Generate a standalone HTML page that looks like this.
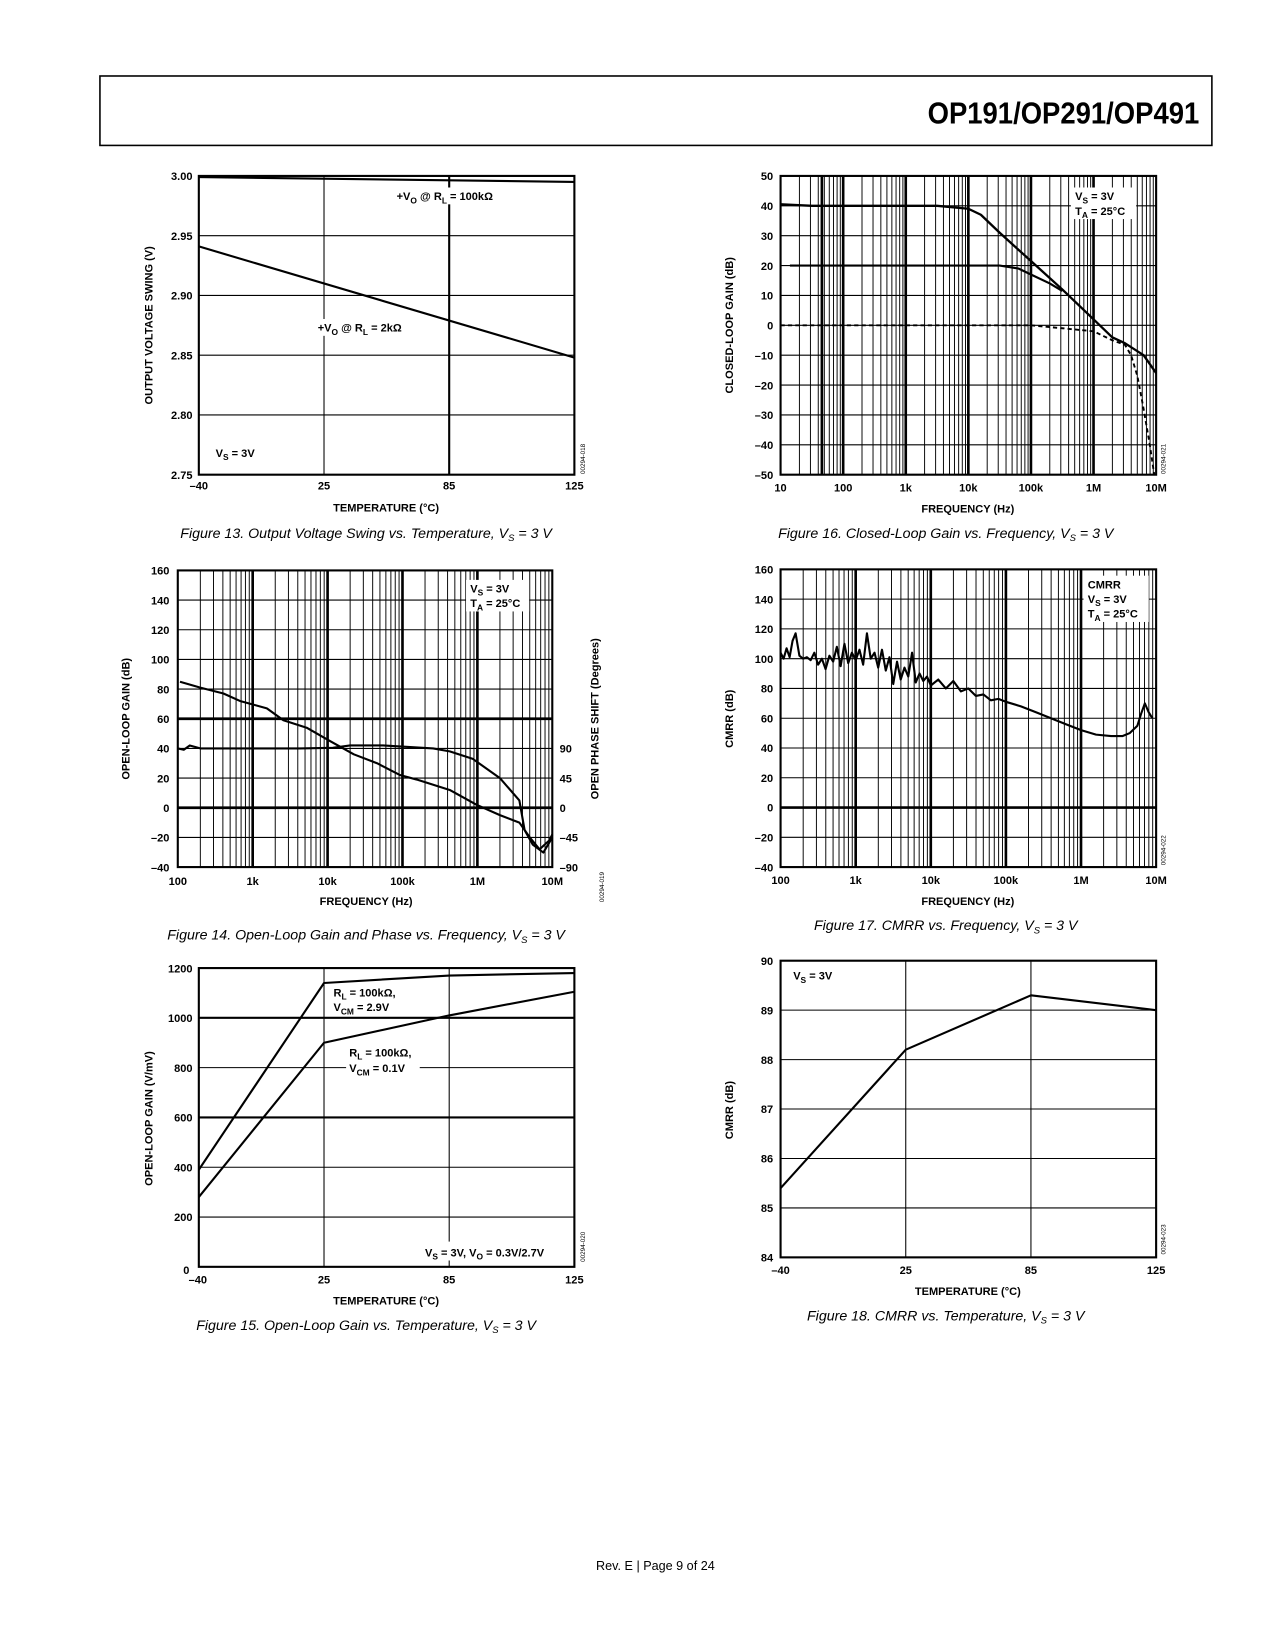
<!DOCTYPE html>
<html><head><meta charset="utf-8"><style>
html,body{margin:0;padding:0;background:#fff}
svg{display:block}
text{font-family:"Liberation Sans",Arial,sans-serif}
.t{font-size:10.5px;font-weight:bold}
.cap{font-size:13.5px;font-style:italic}
</style></head><body>
<svg id="page" width="1275" height="1650" viewBox="0 0 1212 1568" xmlns="http://www.w3.org/2000/svg">
<rect x="95" y="72" width="1057" height="66" fill="none" stroke="#000" stroke-width="1.5"/>
<text x="1140" y="117" text-anchor="end" font-size="29" font-weight="bold" transform="scale(0.9,1)" style="transform-origin:1140px 117px">OP191/OP291/OP491</text>
<text x="623" y="1492" text-anchor="middle" font-size="12">Rev. E | Page 9 of 24</text>
<g id="charts"></g>
</svg>
<script>
// Fig 13 data
const f13Temps=[-40,125];
const f13Upper=[2.999,2.995];
const f13Lower=[2.941,2.848];
const f13YTicks=[2.75,2.80,2.85,2.90,2.95,3.00];
const f13YTickLabels=["2.75","2.80","2.85","2.90","2.95","3.00"];
const tempTicks=[-40,25,85,125];
const tempTickLabels=["–40","25","85","125"];
// Fig 14 data
const f14GainLogF=[2.03,2.3,2.61,2.83,3.19,3.41,3.72,4.03,4.35,4.66,4.97,5.19,5.63,5.99,6.3,6.56,6.7,6.83,6.96,7.0];
const f14Gain=[85,81,77,72,67,59,54,45,36,30,22,19,12,2,-5,-10,-20,-28,-22,-18];
const f14PhaseLogF=[2.0,2.08,2.16,2.3,2.74,3.19,3.63,4.07,4.3,4.74,5.41,5.63,5.94,6.3,6.56,6.63,6.74,6.88,7.0];
const f14Phase=[90,88,94.5,90,90,90,90,91,94.5,94.5,90,85.5,74,45,11,-34,-56,-68,-45];
const f14YTicks=[-40,-20,0,20,40,60,80,100,120,140,160];
const f14YTickLabels=["–40","–20","0","20","40","60","80","100","120","140","160"];
const f14PhaseTicks=[-90,-45,0,45,90];
const f14PhaseTickLabels=["–90","–45","0","45","90"];
const f14XTicks=[2,3,4,5,6,7];
const f14XTickLabels=["100","1k","10k","100k","1M","10M"];
// Fig 15 data
const f15Temps=[-40,25,85,125];
const f15Upper=[390,1140,1170,1180];
const f15Lower=[280,900,1010,1105];
const f15YTicks=[0,200,400,600,800,1000,1200];
const f15YTickLabels=["0","200","400","600","800","1000","1200"];
// Fig 16 data
const f16G40LogF=[1.0,1.5,3.5,4.0,4.2,4.5,5.0,5.5,6.0,6.3,6.5,6.8,7.0];
const f16G40=[40.5,40,40,39,37,31,21.5,12,2,-4,-6,-10,-16];
const f16G20LogF=[1.15,4.5,4.8,5.0,5.3,5.5];
const f16G20=[20,20,19,17,14,11.5];
const f16G0LogF=[1.0,5.0,5.5,6.0,6.3,6.5,6.6,6.7,6.8,6.9,6.97];
const f16G0=[0,0,-1,-2,-5,-6.5,-10,-17,-28,-40,-50];
const f16YTicks=[-50,-40,-30,-20,-10,0,10,20,30,40,50];
const f16YTickLabels=["–50","–40","–30","–20","–10","0","10","20","30","40","50"];
const f16XTicks=[1,2,3,4,5,6,7];
const f16XTickLabels=["10","100","1k","10k","100k","1M","10M"];
// Fig 17 data
const f17LogF=[2.0,2.04,2.08,2.12,2.16,2.2,2.25,2.3,2.35,2.4,2.45,2.5,2.55,2.6,2.65,2.7,2.75,2.8,2.85,2.9,2.95,3.0,3.05,3.1,3.15,3.2,3.25,3.3,3.35,3.4,3.45,3.5,3.55,3.6,3.65,3.7,3.75,3.8,3.85,3.9,3.95,4.0,4.1,4.2,4.3,4.4,4.5,4.6,4.7,4.8,4.9,5.0,5.2,5.4,5.6,5.8,6.0,6.2,6.4,6.55,6.65,6.75,6.8,6.85,6.9,6.95];
const f17Cmrr=[104,100,107,101,112,117,102,100,101,99,104,96,100,93,102,98,108,95,110,97,104,99,106,96,117,100,104,94,106,92,101,83,98,86,94,88,104,84,90,85,88,82,86,80,85,78,80,75,76,72,73,71,68,64,60,56,52,49,48,48,50,55,63,70,64,60];
const f17YTicks=[-40,-20,0,20,40,60,80,100,120,140,160];
const f17YTickLabels=["–40","–20","0","20","40","60","80","100","120","140","160"];
const f17XTicks=[2,3,4,5,6,7];
const f17XTickLabels=["100","1k","10k","100k","1M","10M"];
// Fig 18 data
const f18Temps=[-40,25,85,125];
const f18Cmrr=[85.4,88.2,89.3,89.0];
const f18YTicks=[84,85,86,87,88,89,90];
const f18YTickLabels=["84","85","86","87","88","89","90"];

const NS="http://www.w3.org/2000/svg";
const root=document.getElementById('charts');
function el(tag,attrs,parent){const e=document.createElementNS(NS,tag);for(const k in attrs)e.setAttribute(k,attrs[k]);(parent||root).appendChild(e);return e;}
function lin(v,d0,d1,p0,p1){return p0+(v-d0)/(d1-d0)*(p1-p0);}
// temperature axis: ticks evenly spaced, piecewise linear between them
function tempScale(X0,X1){return v=>{const n=tempTicks.length-1;let i=0;while(i<n-1&&v>tempTicks[i+1])i++;
  return lin(v,tempTicks[i],tempTicks[i+1],X0+(X1-X0)*i/n,X0+(X1-X0)*(i+1)/n);};}
function txt(parent,x,y,s,anchor,cls,rot){const t=el('text',{x:x,y:y,'text-anchor':anchor||'middle',class:cls||'t'},parent);
  if(rot)t.setAttribute('transform','rotate(-90 '+x+' '+y+')');t.textContent=s;return t;}
function idtxt(parent,x,y,s){const t=el('text',{x:x,y:y,'text-anchor':'middle',style:'font-size:6px;font-weight:normal',transform:'rotate(-90 '+x+' '+y+')'},parent);t.textContent=s;return t;}
function cap(parent,x,y,pre,post){const t=el('text',{x:x,y:y,'text-anchor':'middle',class:'cap'},parent);
  const a=el('tspan',{},t);a.textContent=pre;const b=el('tspan',{'font-size':'9',dy:'3'},t);b.textContent='S';const c=el('tspan',{dy:'-3'},t);c.textContent=post;return t;}
function rich(parent,x,y,parts,anchor){const t=el('text',{x:x,y:y,class:'t','text-anchor':anchor||'start'},parent);
  parts.forEach(p=>{const s=el('tspan',{},t);if(p[1]){s.setAttribute('font-size','8');s.setAttribute('dy','3');}else if(p[2]){s.setAttribute('dy','-3');}s.textContent=p[0];});return t;}
function line(parent,x1,y1,x2,y2,w,dash){const l=el('line',{x1:x1,y1:y1,x2:x2,y2:y2,stroke:'#000','stroke-width':w||1},parent);if(dash)l.setAttribute('stroke-dasharray',dash);return l;}
function path(parent,xs,ys,fx,fy,w,dash){let d='';for(let i=0;i<xs.length;i++)d+=(i?'L':'M')+fx(xs[i]).toFixed(1)+','+fy(ys[i]).toFixed(1);
  const p=el('path',{d:d,fill:'none',stroke:'#000','stroke-width':w||2,'stroke-linejoin':'round'},parent);if(dash)p.setAttribute('stroke-dasharray',dash);return p;}
function logGrid(g,x0,x1,d0,d1,y0,y1){const fx=v=>lin(v,d0,d1,x0,x1);
  for(let d=d0;d<d1;d++){for(let m=2;m<=9;m++){line(g,fx(d+Math.log10(m)),y0,fx(d+Math.log10(m)),y1,0.9);} if(d>d0)line(g,fx(d),y0,fx(d),y1,2.5);}}
function box(g,x0,y0,x1,y1){el('rect',{x:x0,y:y0,width:x1-x0,height:y1-y0,fill:'none',stroke:'#000','stroke-width':2},g);}

// ---------- Figure 13 ----------
(function(){
 const g=el('g',{});
 const X0=189,X1=546,Y0=167,Y1=451;
 const fx=tempScale(X0,X1), fy=v=>lin(v,2.75,3.0,Y1,Y0);
 f13YTicks.forEach((v,i)=>{const l=line(g,X0,fy(v),X1,fy(v),1);
   txt(g,183,fy(v)+4,f13YTickLabels[i],'end');});
 line(g,fx(25),Y0,fx(25),Y1,1);line(g,fx(85),Y0,fx(85),Y1,2);
 tempTicks.forEach((v,i)=>txt(g,fx(v),465,tempTickLabels[i]));
 box(g,X0,Y0,X1,Y1);
 const a=path(g,f13Temps,f13Upper,fx,fy,2);
 const b=path(g,f13Temps,f13Lower,fx,fy,2);
 el('rect',{x:373,y:178,width:112,height:16,fill:'#fff'},g);
 rich(g,377,190,[['+V'],['O',1],[' @ R',0,1],['L',1],[' = 100kΩ',0,1]]);
 el('rect',{x:299,y:303,width:98,height:16,fill:'#fff'},g);
 rich(g,302,315,[['+V'],['O',1],[' @ R',0,1],['L',1],[' = 2kΩ',0,1]]);
 rich(g,205,434,[['V'],['S',1],[' = 3V',0,1]]);
 const yl=txt(g,145,309,'OUTPUT VOLTAGE SWING (V)','middle','t',true);
 const xl=txt(g,367,486,'TEMPERATURE (°C)');
 idtxt(g,556,436,'00294-018');
 const c=cap(g,348,511,'Figure 13. Output Voltage Swing vs. Temperature, V',' = 3 V');
})();

// ---------- Figure 14 ----------
(function(){
 const g=el('g',{});
 const X0=169,X1=525,Y0=542,Y1=824;
 const fx=v=>lin(v,2,7,X0,X1), fy=v=>lin(v,-40,160,Y1,Y0), fp=v=>lin(v,-90,90,Y1,fy(40));
 logGrid(g,X0,X1,2,7,Y0,Y1);
 f14YTicks.forEach((v,i)=>{line(g,X0,fy(v),X1,fy(v),(v===0||v===60)?2.5:1);txt(g,161,fy(v)+4,f14YTickLabels[i],'end');});
 f14PhaseTicks.forEach((v,i)=>txt(g,532,fp(v)+4,f14PhaseTickLabels[i],'start'));
 f14XTicks.forEach((v,i)=>txt(g,fx(v),841,f14XTickLabels[i]));
 box(g,X0,Y0,X1,Y1);
 el('rect',{x:443,y:551,width:60,height:30,fill:'#fff'},g);
 rich(g,447,563,[['V'],['S',1],[' = 3V',0,1]]);
 rich(g,447,577,[['T'],['A',1],[' = 25°C',0,1]]);
 const a=path(g,f14GainLogF,f14Gain,fx,fy,2);
 const b=path(g,f14PhaseLogF,f14Phase,fx,fp,2);
 txt(g,123,683,'OPEN-LOOP GAIN (dB)','middle','t',true);
 const r=el('text',{x:569,y:683,class:'t','text-anchor':'middle',transform:'rotate(-90 569 683)'},g);r.textContent='OPEN PHASE SHIFT (Degrees)';
 txt(g,348,860,'FREQUENCY (Hz)');
 idtxt(g,574,843,'00294-019');
 cap(g,348,893,'Figure 14. Open-Loop Gain and Phase vs. Frequency, V',' = 3 V');
})();

// ---------- Figure 15 ----------
(function(){
 const g=el('g',{});
 const X0=189,X1=546,Y0=920,Y1=1204;
 const fx=tempScale(X0,X1), fy=v=>lin(v,0,1200,Y1,Y0);
 f15YTicks.forEach((v,i)=>{line(g,X0,fy(v),X1,fy(v),(v===600||v===1000)?2:1);if(v>0)txt(g,183,fy(v)+4,f15YTickLabels[i],'end');});
 txt(g,180,1211,'0','end');
 line(g,fx(25),Y0,fx(25),Y1,1);line(g,fx(85),Y0,fx(85),Y1,1);
 tempTicks.forEach((v,i)=>txt(g,fx(v)+(i===0?-1:0),1220,tempTickLabels[i]));
 box(g,X0,Y0,X1,Y1);
 const a=path(g,f15Temps,f15Upper,fx,fy,2);
 const b=path(g,f15Temps,f15Lower,fx,fy,2);
 el('rect',{x:314,y:936,width:70,height:30,fill:'#fff'},g);
 rich(g,317,947,[['R'],['L',1],[' = 100kΩ,',0,1]]);
 rich(g,317,961,[['V'],['CM',1],[' = 2.9V',0,1]]);
 el('rect',{x:329,y:993,width:70,height:30,fill:'#fff'},g);
 rich(g,332,1004,[['R'],['L',1],[' = 100kΩ,',0,1]]);
 rich(g,332,1019,[['V'],['CM',1],[' = 0.1V',0,1]]);
 el('rect',{x:400,y:1180,width:140,height:18,fill:'#fff'},g);
 rich(g,404,1194,[['V'],['S',1],[' = 3V, V',0,1],['O',1],[' = 0.3V/2.7V',0,1]]);
 txt(g,145,1063,'OPEN-LOOP GAIN (V/mV)','middle','t',true);
 txt(g,367,1240,'TEMPERATURE (°C)');
 idtxt(g,556,1185,'00294-020');
 cap(g,348,1264,'Figure 15. Open-Loop Gain vs. Temperature, V',' = 3 V');
})();

// ---------- Figure 16 ----------
(function(){
 const g=el('g',{});
 const X0=742,X1=1099,Y0=167,Y1=451;
 const fx=v=>lin(v,1,7,X0,X1), fy=v=>lin(v,-50,50,Y1,Y0);
 logGrid(g,X0,X1,1,7,Y0,Y1);
 line(g,fx(1.66),Y0,fx(1.66),Y1,2.5);
 f16YTicks.forEach((v,i)=>{line(g,X0,fy(v),X1,fy(v),1);txt(g,735,fy(v)+4,f16YTickLabels[i],'end');});
 f16XTicks.forEach((v,i)=>txt(g,fx(v),467,f16XTickLabels[i]));
 box(g,X0,Y0,X1,Y1);
 el('rect',{x:1018,y:178,width:62,height:30,fill:'#fff'},g);
 rich(g,1022,190,[['V'],['S',1],[' = 3V',0,1]]);
 rich(g,1022,204,[['T'],['A',1],[' = 25°C',0,1]]);
 const a=path(g,f16G40LogF,f16G40,fx,fy,2.2);
 const b=path(g,f16G20LogF,f16G20,fx,fy,2);
 const c=path(g,f16G0LogF,f16G0,fx,fy,1.8,'4,3');
 txt(g,697,309,'CLOSED-LOOP GAIN (dB)','middle','t',true);
 txt(g,920,487,'FREQUENCY (Hz)');
 idtxt(g,1108,436,'00294-021');
 cap(g,899,511,'Figure 16. Closed-Loop Gain vs. Frequency, V',' = 3 V');
})();

// ---------- Figure 17 ----------
(function(){
 const g=el('g',{});
 const X0=742,X1=1099,Y0=541,Y1=824;
 const fx=v=>lin(v,2,7,X0,X1), fy=v=>lin(v,-40,160,Y1,Y0);
 logGrid(g,X0,X1,2,7,Y0,Y1);
 f17YTicks.forEach((v,i)=>{line(g,X0,fy(v),X1,fy(v),v===0?2.5:1);txt(g,735,fy(v)+4,f17YTickLabels[i],'end');});
 f17XTicks.forEach((v,i)=>txt(g,fx(v),840,f17XTickLabels[i]));
 box(g,X0,Y0,X1,Y1);
 el('rect',{x:1030,y:547,width:62,height:44,fill:'#fff'},g);
 txt(g,1034,559,'CMRR','start');
 rich(g,1034,573,[['V'],['S',1],[' = 3V',0,1]]);
 rich(g,1034,587,[['T'],['A',1],[' = 25°C',0,1]]);
 const a=path(g,f17LogF,f17Cmrr,fx,fy,2);
 txt(g,697,683,'CMRR (dB)','middle','t',true);
 txt(g,920,860,'FREQUENCY (Hz)');
 idtxt(g,1108,808,'00294-022');
 cap(g,899,884,'Figure 17. CMRR vs. Frequency, V',' = 3 V');
})();

// ---------- Figure 18 ----------
(function(){
 const g=el('g',{});
 const X0=742,X1=1099,Y0=913,Y1=1195;
 const fx=tempScale(X0,X1), fy=v=>lin(v,84,90,Y1,Y0);
 f18YTicks.forEach((v,i)=>{line(g,X0,fy(v),X1,fy(v),1);txt(g,735,fy(v)+4,f18YTickLabels[i],'end');});
 line(g,fx(25),Y0,fx(25),Y1,1);line(g,fx(85),Y0,fx(85),Y1,1);
 tempTicks.forEach((v,i)=>txt(g,fx(v),1211,tempTickLabels[i]));
 box(g,X0,Y0,X1,Y1);
 el('rect',{x:750,y:918,width:50,height:18,fill:'#fff'},g);
 rich(g,754,931,[['V'],['S',1],[' = 3V',0,1]]);
 const a=path(g,f18Temps,f18Cmrr,fx,fy,2);
 txt(g,697,1055,'CMRR (dB)','middle','t',true);
 txt(g,920,1231,'TEMPERATURE (°C)');
 idtxt(g,1108,1178,'00294-023');
 cap(g,899,1255,'Figure 18. CMRR vs. Temperature, V',' = 3 V');
})();
</script>
</body></html>
